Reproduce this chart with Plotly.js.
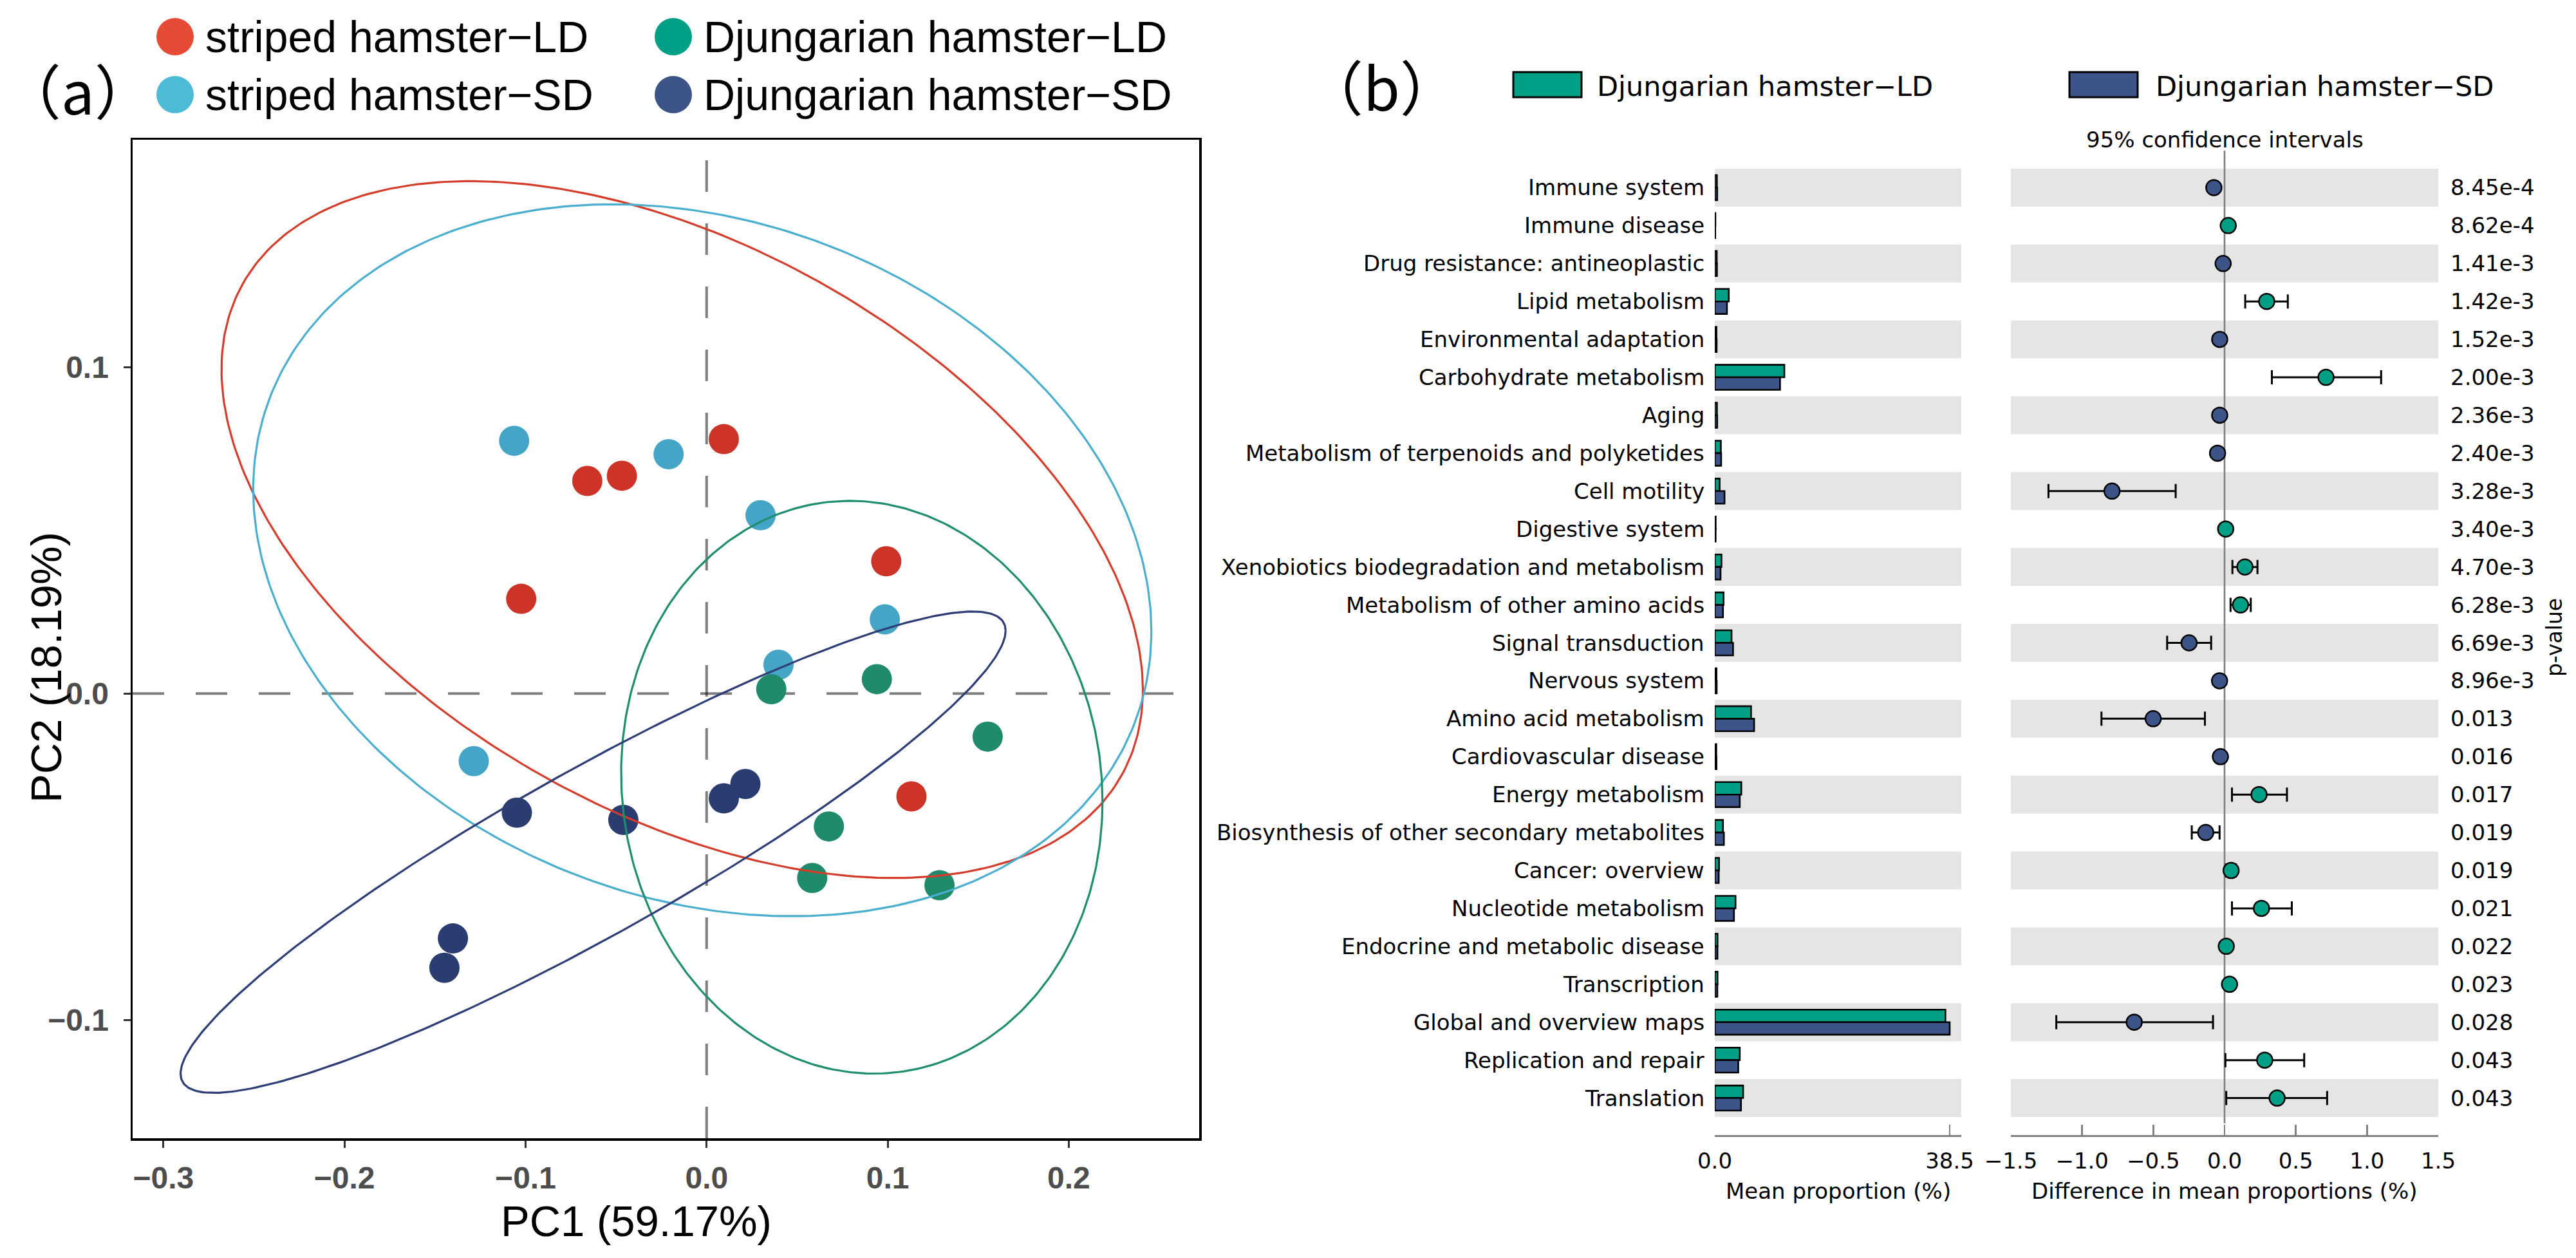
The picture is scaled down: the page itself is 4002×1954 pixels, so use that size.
<!DOCTYPE html>
<html><head><meta charset="utf-8">
<script src="https://cdn.plot.ly/plotly-3.0.1.min.js"></script>
<style>html,body{margin:0;padding:0;background:#fff}</style>
</head><body>
<div id="chart" style="width:4002px;height:1954px"></div>
<script>
// ---------------- DATA: panel (a) PCA ----------------
const groupNames = ['striped hamster\u2212LD','striped hamster\u2212SD','Djungarian hamster\u2212LD','Djungarian hamster\u2212SD'];
const stripedLD_PC1 = [0.0095,-0.0659,-0.0468,-0.1024,0.0992,0.1131];
const stripedLD_PC2 = [0.0779,0.0651,0.0667,0.0290,0.0405,-0.0315];
const stripedSD_PC1 = [-0.1063,-0.0210,0.0298,0.0984,0.0397,-0.1286];
const stripedSD_PC2 = [0.0774,0.0733,0.0546,0.0227,0.0088,-0.0207];
const djungLD_PC1 = [0.0357,0.0940,0.1552,0.0675,0.0583,0.1286];
const djungLD_PC2 = [0.0013,0.0044,-0.0132,-0.0407,-0.0565,-0.0587];
const djungSD_PC1 = [0.0095,0.0214,-0.1048,-0.0460,-0.1401,-0.1448];
const djungSD_PC2 = [-0.0321,-0.0277,-0.0365,-0.0387,-0.0750,-0.0840];
// 95% ellipses (centre, half-extent along PC1 / PC2, correlation-phase)
const ellipseCx = [-0.0135,-0.0024,0.0857,-0.0627];
const ellipseCy = [0.0502,0.0408,-0.0287,-0.0486];
const ellipseRx = [0.2544,0.2480,0.1329,0.2278];
const ellipseRy = [0.1067,0.1090,0.0877,0.0737];
const ellipseCorr = [-0.46,-0.20,-0.05,0.92];
const pcaTicksX = [-0.3,-0.2,-0.1,0.0,0.1,0.2];
const pcaTicksY = [-0.1,0.0,0.1];

// ---------------- DATA: panel (b) STAMP ----------------
const pathways = ['Immune system','Immune disease','Drug resistance: antineoplastic','Lipid metabolism',
 'Environmental adaptation','Carbohydrate metabolism','Aging','Metabolism of terpenoids and polyketides',
 'Cell motility','Digestive system','Xenobiotics biodegradation and metabolism','Metabolism of other amino acids',
 'Signal transduction','Nervous system','Amino acid metabolism','Cardiovascular disease','Energy metabolism',
 'Biosynthesis of other secondary metabolites','Cancer: overview','Nucleotide metabolism',
 'Endocrine and metabolic disease','Transcription','Global and overview maps','Replication and repair','Translation'];
const meanLD = [0.35,0.10,0.33,2.30,0.28,11.40,0.36,1.00,0.80,0.15,1.10,1.45,2.75,0.28,5.95,0.25,4.35,1.35,0.70,3.40,0.45,0.45,37.80,4.10,4.65];
const meanSD = [0.40,0.08,0.36,2.00,0.31,10.70,0.40,1.05,1.60,0.14,0.95,1.35,3.00,0.32,6.45,0.28,4.10,1.50,0.65,3.15,0.44,0.42,38.50,3.85,4.30];
const diffMean = [-0.075,0.026,-0.010,0.296,-0.034,0.712,-0.034,-0.049,-0.790,0.008,0.143,0.112,-0.249,-0.035,-0.501,-0.029,0.242,-0.132,0.046,0.259,0.012,0.035,-0.634,0.282,0.369];
const ciLow  = [-0.100,0.010,-0.018,0.145,-0.050,0.332,-0.050,-0.075,-1.236,0.003,0.055,0.042,-0.403,-0.050,-0.864,-0.045,0.052,-0.230,0.010,0.052,0.003,0.010,-1.181,0.006,0.012];
const ciHigh = [-0.050,0.040,-0.003,0.444,-0.018,1.099,-0.018,-0.022,-0.343,0.013,0.231,0.184,-0.094,-0.020,-0.138,-0.013,0.438,-0.035,0.080,0.472,0.021,0.060,-0.081,0.559,0.720];
const pValues = ['8.45e-4','8.62e-4','1.41e-3','1.42e-3','1.52e-3','2.00e-3','2.36e-3','2.40e-3','3.28e-3','3.40e-3',
 '4.70e-3','6.28e-3','6.69e-3','8.96e-3','0.013','0.016','0.017','0.019','0.019','0.021','0.022','0.023','0.028','0.043','0.043'];
const barTickVals = [0,38.5];
const barTickText = ['0.0','38.5'];
const ciTickVals = [-1.5,-1.0,-0.5,0.0,0.5,1.0,1.5];

// ---------------- STYLE ----------------
const W = 4002, H = 1954;
const px = x => x / W, py = y => 1 - y / H;
const legendColors = ['#E64B35','#4DBBD5','#00A087','#3C5488'];
const pointColors  = ['#CD3427','#45A5C6','#1F8B6B','#2B3C70'];
const lineColors   = ['#D43D2B','#4AAECE','#1F8E6E','#2E3D76'];
const LDcol = '#00A087', SDcol = '#3C5488';
const sans = 'Liberation Sans, Arial, sans-serif';
const dv = 'DejaVu Sans, sans-serif';

const traces = [];
const pcX = [stripedLD_PC1, stripedSD_PC1, djungLD_PC1, djungSD_PC1];
const pcY = [stripedLD_PC2, stripedSD_PC2, djungLD_PC2, djungSD_PC2];
for (let g = 0; g < 4; g++) {
  traces.push({type:'scatter', mode:'markers', x:pcX[g], y:pcY[g], xaxis:'x', yaxis:'y', name:groupNames[g],
    marker:{size:47, color:pointColors[g], line:{width:0}}, showlegend:false, hoverinfo:'skip'});
}
for (let g = 0; g < 4; g++) {
  const phi = Math.acos(ellipseCorr[g]);
  const ex = [], ey = [];
  for (let k = 0; k <= 360; k++) {
    const t = 2 * Math.PI * k / 360;
    ex.push(ellipseCx[g] + ellipseRx[g] * Math.cos(t));
    ey.push(ellipseCy[g] + ellipseRy[g] * Math.cos(t - phi));
  }
  traces.push({type:'scatter', mode:'lines', x:ex, y:ey, xaxis:'x', yaxis:'y',
    line:{color:lineColors[g], width:3.2}, showlegend:false, hoverinfo:'skip'});
}
// bars
traces.push({type:'bar', orientation:'h', y:pathways, x:meanLD, xaxis:'x2', yaxis:'y2',
  marker:{color:LDcol, line:{color:'#000', width:2.6}}, showlegend:false, hoverinfo:'skip'});
traces.push({type:'bar', orientation:'h', y:pathways, x:meanSD, xaxis:'x2', yaxis:'y2',
  marker:{color:SDcol, line:{color:'#000', width:2.6}}, showlegend:false, hoverinfo:'skip'});
// CI
traces.push({type:'scatter', mode:'markers', y:pathways, x:diffMean, xaxis:'x3', yaxis:'y3',
  error_x:{type:'data', symmetric:false,
    array:diffMean.map((d,i)=>ciHigh[i]-d), arrayminus:diffMean.map((d,i)=>d-ciLow[i]),
    color:'#000', thickness:3, width:11},
  marker:{size:24, color:diffMean.map(d => d > 0 ? LDcol : SDcol), line:{color:'#000', width:2.5}},
  showlegend:false, hoverinfo:'skip'});

const shapes = [];
// zero reference lines panel (a)
shapes.push({type:'line', xref:'x domain', yref:'y', x0:0, x1:1, y0:0, y1:0, layer:'below',
  line:{color:'rgba(0,0,0,0.5)', width:4, dash:'49px,49px'}});
shapes.push({type:'line', xref:'x', yref:'y domain', x0:0, x1:0, y0:0, y1:1, layer:'below',
  line:{color:'rgba(0,0,0,0.5)', width:4, dash:'49px,49px'}});
// alternating bands panel (b)
pathways.forEach((p, i) => {
  if (i % 2 === 0) {
    ['x2 domain','x3 domain'].forEach((xr, j) => {
      shapes.push({type:'rect', xref:xr, yref: j === 0 ? 'y2' : 'y3', x0:0, x1:1, y0:i-0.5, y1:i+0.5,
        layer:'below', fillcolor:'#E5E5E5', line:{width:0}});
    });
  }
});
shapes.push({type:'line', xref:'x3', yref:'y3 domain', x0:0, x1:0, y0:0.012, y1:1, layer:'below',
  line:{color:'#808080', width:2.6}});
// legend keys panel (a)
const legPos = [[272,57],[272,147],[1046,57],[1046,147]];
legPos.forEach((p, g) => {
  shapes.push({type:'circle', xref:'paper', yref:'paper', x0:px(p[0]-29), x1:px(p[0]+29),
    y0:py(p[1]+29), y1:py(p[1]-29), fillcolor:legendColors[g], line:{width:0}});
});
// legend keys panel (b)
shapes.push({type:'rect', xref:'paper', yref:'paper', x0:px(2351), x1:px(2457), y0:py(151), y1:py(112),
  fillcolor:LDcol, line:{color:'#000', width:3}});
shapes.push({type:'rect', xref:'paper', yref:'paper', x0:px(3215), x1:px(3321), y0:py(151), y1:py(112),
  fillcolor:SDcol, line:{color:'#000', width:3}});

const ann = [];
legPos.forEach((p, g) => {
  ann.push({xref:'paper', yref:'paper', x:px(p[0]+45), y:py(p[1]), xanchor:'left', yanchor:'middle',
    text:groupNames[g], showarrow:false, font:{family:sans, size:68, color:'#000'}});
});
ann.push({xref:'paper', yref:'paper', x:px(121), y:py(138), xanchor:'center', yanchor:'middle', text:'\uFF08a\uFF09',
  showarrow:false, font:{family:'Noto Sans CJK SC, sans-serif', size:92, color:'#000'}});
ann.push({xref:'paper', yref:'paper', x:px(2146), y:py(132), xanchor:'center', yanchor:'middle', text:'\uFF08b\uFF09',
  showarrow:false, font:{family:'Noto Sans CJK SC, sans-serif', size:92, color:'#000'}});
ann.push({xref:'paper', yref:'paper', x:px(988), y:py(1896), xanchor:'center', yanchor:'middle', text:'PC1 (59.17%)',
  showarrow:false, font:{family:sans, size:67, color:'#000'}});
ann.push({xref:'paper', yref:'paper', x:px(71), y:py(1037), xanchor:'center', yanchor:'middle', text:'PC2 (18.19%)',
  textangle:-90, showarrow:false, font:{family:sans, size:67, color:'#000'}});
ann.push({xref:'paper', yref:'paper', x:px(2479), y:py(134), xanchor:'left', yanchor:'middle', text:groupNames[2],
  showarrow:false, font:{family:dv, size:43, color:'#000'}});
ann.push({xref:'paper', yref:'paper', x:px(3347), y:py(134), xanchor:'left', yanchor:'middle', text:groupNames[3],
  showarrow:false, font:{family:dv, size:43, color:'#000'}});
ann.push({xref:'paper', yref:'paper', x:px(3456), y:py(217), xanchor:'center', yanchor:'middle', text:'95% confidence intervals',
  showarrow:false, font:{family:dv, size:34, color:'#000'}});
ann.push({xref:'paper', yref:'paper', x:px(3969), y:py(990), xanchor:'center', yanchor:'middle', text:'p-value',
  textangle:-90, showarrow:false, font:{family:dv, size:33, color:'#000'}});
ann.push({xref:'paper', yref:'paper', x:px(2856), y:py(1850), xanchor:'center', yanchor:'middle', text:'Mean proportion (%)',
  showarrow:false, font:{family:dv, size:34, color:'#000'}});
ann.push({xref:'paper', yref:'paper', x:px(3456), y:py(1850), xanchor:'center', yanchor:'middle', text:'Difference in mean proportions (%)',
  showarrow:false, font:{family:dv, size:34, color:'#000'}});
pathways.forEach((p, i) => {
  ann.push({xref:'paper', yref:'y2', x:px(2650), y:p, xanchor:'right', yanchor:'middle', text:p,
    showarrow:false, font:{family:dv, size:34, color:'#000'}});
  ann.push({xref:'paper', yref:'y3', x:px(3805), y:p, xanchor:'left', yanchor:'middle', text:pValues[i],
    showarrow:false, font:{family:dv, size:34, color:'#000'}});
});

const catY = {type:'category', categoryorder:'array', categoryarray:pathways, range:[24.975,-0.975],
  showticklabels:false, showgrid:false, zeroline:false, showline:false, ticks:'', fixedrange:true};
const tickFontA = {family:sans, size:48, color:'#4D4D4D', weight:'bold'};

const layout = {
  width:W, height:H, margin:{l:0, r:0, t:0, b:0, pad:0},
  paper_bgcolor:'#fff', plot_bgcolor:'rgba(0,0,0,0)', showlegend:false,
  barmode:'group', bargap:0.34, bargroupgap:0,
  xaxis:{domain:[px(206), px(1863)], range:[-0.317, 0.272], anchor:'y', tickvals:pcaTicksX, tickformat:'.1f',
    ticks:'outside', ticklen:11, tickwidth:3, tickcolor:'#333', showline:true, mirror:true, linecolor:'#000', linewidth:3.5,
    showgrid:false, zeroline:false, tickfont:tickFontA, automargin:false, ticklabelstandoff:6},
  yaxis:{domain:[py(1768), py(217)], range:[-0.1362, 0.1696], anchor:'x', tickvals:pcaTicksY, tickformat:'.1f',
    ticks:'outside', ticklen:11, tickwidth:3, tickcolor:'#333', showline:true, mirror:true, linecolor:'#000', linewidth:3.5,
    showgrid:false, zeroline:false, tickfont:tickFontA, automargin:false, ticklabelstandoff:13},
  xaxis2:{domain:[px(2664), px(3047)], range:[0, 40.4], anchor:'y2', tickvals:barTickVals, ticktext:barTickText,
    ticks:'inside', ticklen:16, tickwidth:2.6, tickcolor:'#808080', showline:true, linecolor:'#808080', linewidth:3,
    showgrid:false, zeroline:false, tickfont:{family:dv, size:34, color:'#000'}, automargin:false, ticklabelstandoff:8},
  yaxis2:Object.assign({domain:[py(1763), py(234)], anchor:'x2'}, catY),
  xaxis3:{domain:[px(3124), px(3788)], range:[-1.5, 1.5], anchor:'y3', tickvals:ciTickVals, tickformat:'.1f',
    ticks:'inside', ticklen:16, tickwidth:2.6, tickcolor:'#808080', showline:true, linecolor:'#808080', linewidth:3,
    showgrid:false, zeroline:false, tickfont:{family:dv, size:34, color:'#000'}, automargin:false, ticklabelstandoff:8},
  yaxis3:Object.assign({domain:[py(1763), py(234)], anchor:'x3'}, catY),
  shapes:shapes, annotations:ann
};
Plotly.newPlot('chart', traces, layout, {staticPlot:true, displayModeBar:false});
</script>
</body></html>
